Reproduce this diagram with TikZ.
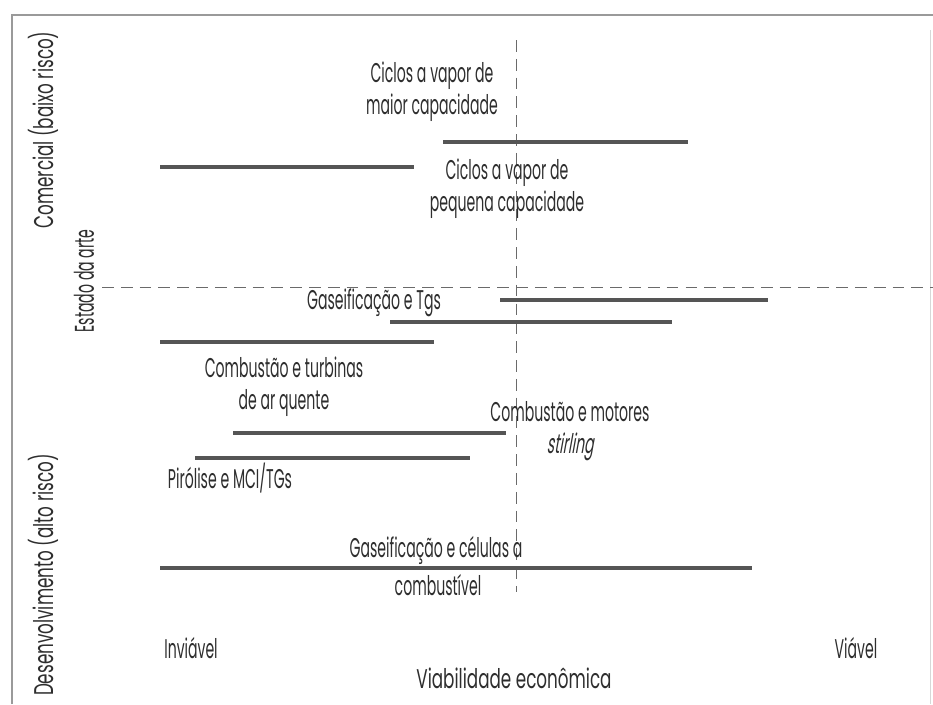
\documentclass[tikz,border=0pt]{standalone}
\usepackage{fontspec}
\setmainfont{Poppins}[FakeStretch=0.52]
\newfontfamily\slfont{Poppins}[FakeStretch=0.52,FakeSlant=0.18]
\newfontfamily\widefont{Poppins}[FakeStretch=0.62]
\definecolor{ink}{HTML}{2E2E2E}
\definecolor{barcol}{HTML}{555555}
\definecolor{guidecol}{HTML}{6A6A6A}
\definecolor{framecol}{HTML}{9A9A9A}
\begin{document}
\begin{tikzpicture}[x=0.85pt,y=-0.85pt,
  lbl/.style={text=ink,font=\fontsize{23}{27}\selectfont,align=center,inner sep=0pt},
  axislbl/.style={lbl,font=\widefont\fontsize{23}{27}\selectfont},
  barline/.style={draw=barcol,line width=2.6pt},
  guideline/.style={draw=guidecol,line width=0.8pt,dash pattern=on 10pt off 6pt},
  frameline/.style={draw=framecol,line width=1pt}]
\useasboundingbox (0,0) rectangle (933,704);

% frame
\coordinate (ftl) at (12,15);
\coordinate (ftr) at (933,15);
\coordinate (fbl) at (12,704);
\draw[frameline] (fbl) -- (ftl) -- (ftr);
\draw[draw=framecol!40,line width=0.6pt] (930,30) -- (930,704);

% guide lines: economic threshold and state of the art
\coordinate (vtop) at (516,40);
\coordinate (vbot) at (516,592);
\coordinate (hleft) at (102,287);
\coordinate (hright) at (933,287);
\draw[guideline] (vtop) -- (vbot);
\draw[guideline] (hleft) -- (hright);

% axis labels
\node[axislbl,rotate=90] (comercial) at (43,130) {Comercial (baixo risco)};
\node[lbl,rotate=90] (estado) at (84,281) {Estado da arte};
\node[axislbl,rotate=90] (desenv) at (43,575) {Desenvolvimento (alto risco)};
\node[lbl] (inviavel) at (191,648) {Inviável};
\node[lbl] (viavel) at (856,648) {Viável};
\node[axislbl] (viab) at (514,678) {Viabilidade econômica};

% technology ranges
\coordinate (a1) at (443,142); \coordinate (a2) at (688,142);
\coordinate (b1) at (160,167); \coordinate (b2) at (414,167);
\coordinate (c1) at (500,300); \coordinate (c2) at (768,300);
\coordinate (d1) at (390,322); \coordinate (d2) at (672,322);
\coordinate (e1) at (160,342); \coordinate (e2) at (434,342);
\coordinate (f1) at (233,433); \coordinate (f2) at (506,433);
\coordinate (g1) at (195,458); \coordinate (g2) at (470,458);
\coordinate (h1) at (160,568); \coordinate (h2) at (752,568);
\foreach \s in {a,b,c,d,e,f,g,h}
  \draw[barline] (\s1) -- (\s2);

% technology labels
\node[lbl] (cvmaior) at (432,92) {Ciclos a vapor de\\maior capacidade};
\node[lbl] (cvpeq) at (507,189) {Ciclos a vapor de\\pequena capacidade};
\node[lbl] (gastg) at (374,303) {Gaseificação e Tgs};
\node[lbl] (combturb) at (284,387) {Combustão e turbinas\\de ar quente};
\node[lbl] (combstir) at (570,431) {Combustão e motores\\{\slfont stirling}};
\node[lbl] (pirol) at (230,478) {Pirólise e MCI/TGs};
\node[lbl] (gascel) at (436,550) {Gaseificação e células a};
\node[lbl] (combust) at (438,585) {combustível};
\end{tikzpicture}
\end{document}
